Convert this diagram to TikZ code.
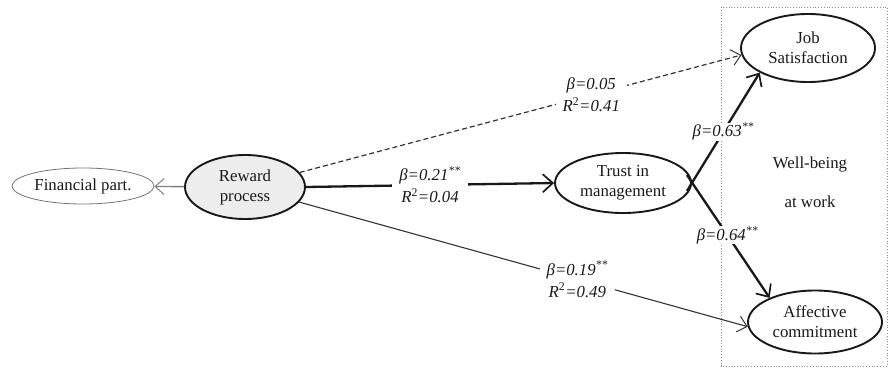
\documentclass[tikz,border=0pt]{standalone}
\usepackage{fontspec}
\setmainfont{Liberation Serif}
\usetikzlibrary{arrows.meta,shapes.geometric}
\begin{document}
\begin{tikzpicture}[x=1pt,y=-1pt,
  every node/.style={font=\fontsize{16.8}{20}\selectfont, text=black!90},
  var/.style={ellipse, draw=black!90, line width=1.9pt, align=center, inner sep=0pt},
  lbl/.style={fill=white, align=center, inner xsep=7pt, inner ysep=0pt,
    font=\fontsize{16.8}{22}\selectfont\itshape},
  bighead/.style={-{Straight Barb[length=10pt,width=18pt,line width=1.7pt]}},
  smallhead/.style={-{Straight Barb[length=9pt,width=16pt,line width=1pt]}},
  strong/.style={draw=black!90, line width=2.3pt, bighead},
  weak/.style={draw=black!80, line width=1.1pt, smallhead},
  nonsig/.style={draw=black!80, line width=1.2pt, dash pattern=on 5pt off 3pt, smallhead},
  region/.style={draw=black!45, line width=0.8pt, dotted}]
\useasboundingbox (0,0) rectangle (890,375);

% latent construct region
\draw[region] (721,7) rectangle (887,366);
\node[align=center, font=\fontsize{16.8}{39}\selectfont] (wb) at (810,182) {Well-being\\at work};

% constructs
\node[ellipse, draw=black!55, line width=0.8pt, inner sep=0pt,
      minimum width=142pt, minimum height=36pt] (fin) at (83,186) {Financial part.};
\node[var, fill=black!7, minimum width=120pt, minimum height=64pt] (rew) at (245,187) {Reward\\process};
\node[var, minimum width=136pt, minimum height=60pt] (trust) at (623,183) {Trust in\\management};
\node[var, minimum width=134pt, minimum height=68pt] (job) at (808,48) {Job\\Satisfaction};
\node[var, minimum width=134pt, minimum height=63pt] (aff) at (815,322) {Affective\\commitment};

% paths
\draw[draw=black!50, line width=1.4pt, smallhead] (rew) -- (fin);
\draw[strong] (rew.east) -- node[lbl]{β=0.21\textsuperscript{**}\\R\textsuperscript{\upshape 2}=0.04} (trust.west);
\draw[nonsig] (rew) -- node[lbl, pos=0.66]{β=0.05\\R\textsuperscript{\upshape 2}=0.41} (job.186);
\draw[weak] (rew) -- node[lbl, pos=0.62]{β=0.19\textsuperscript{**}\\R\textsuperscript{\upshape 2}=0.49} (aff.184);
\coordinate (tu) at ([shift={(-5,8)}]trust.east);
\coordinate (td) at ([shift={(-5,-8)}]trust.east);
\draw[strong] (tu) -- node[lbl, pos=0.5]{β=0.63\textsuperscript{**}} (job.207);
\draw[strong] (td) -- node[lbl, pos=0.49]{β=0.64\textsuperscript{**}} (aff.152);
\end{tikzpicture}
\end{document}
